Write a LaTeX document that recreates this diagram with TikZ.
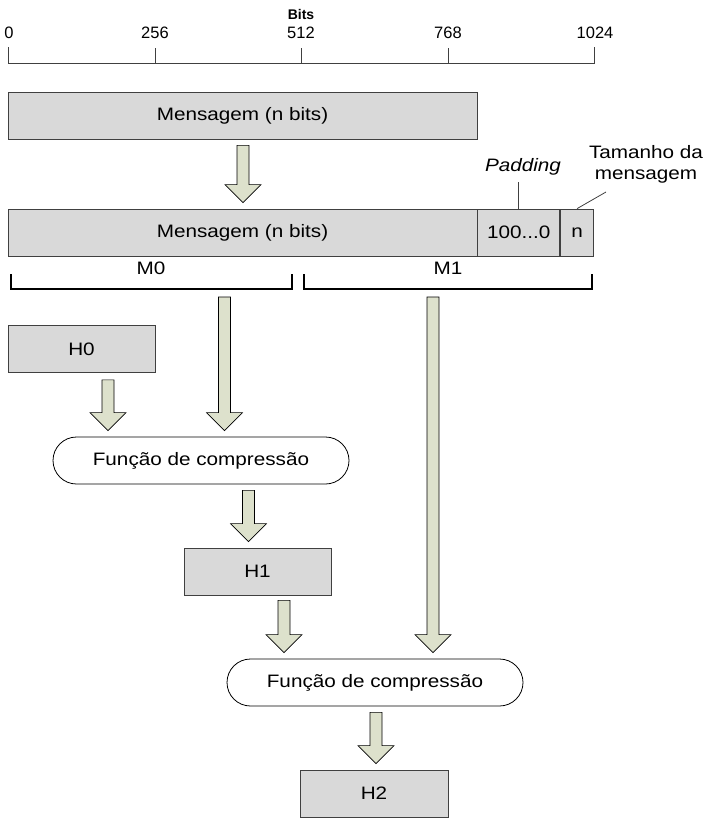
\documentclass[tikz,border=0pt]{standalone}
\usepackage{fontspec}
\setmainfont[FakeStretch=1.15]{Liberation Sans}
\newfontfamily\plainsans{Liberation Sans}
\usetikzlibrary{calc}
\definecolor{boxfill}{RGB}{217,217,217}
\definecolor{boxline}{RGB}{64,64,64}
\definecolor{arrowfill}{RGB}{221,225,204}
\tikzset{
  box/.style={draw=boxline, fill=boxfill, line width=0.8pt, inner sep=0pt,
    minimum height=47pt, font=\fontsize{18}{21}\selectfont},
  func/.style={draw=black, fill=white, line width=0.8pt, rounded corners=23.5pt,
    inner sep=0pt, minimum height=47pt, minimum width=296pt,
    font=\fontsize{18}{21}\selectfont},
  label/.style={inner sep=0pt, font=\fontsize{18}{21}\selectfont},
  ticklabel/.style={inner sep=0pt, font=\plainsans\fontsize{16.5}{19}\selectfont},
  brace/.style={draw=black, line width=1.8pt},
  % block arrow drawn from the start point (top of shaft) to the target (tip)
  blockarr/.style={draw=black, fill=arrowfill, line width=0.6pt, line join=miter,
    to path={
      ($(\tikztostart)+(-6,0)$) -- ($(\tikztotarget)+(-6,-18)$)
      -- ($(\tikztotarget)+(-18,-18)$) -- (\tikztotarget)
      -- ($(\tikztotarget)+(18,-18)$) -- ($(\tikztotarget)+(6,-18)$)
      -- ($(\tikztostart)+(6,0)$) -- cycle}},
}
\begin{document}
\begin{tikzpicture}[x=1pt, y=-1pt]
\useasboundingbox (0,0) rectangle (704,819);

% bit scale
\node[inner sep=0pt, font=\plainsans\bfseries\fontsize{14}{16}\selectfont] (bits) at (301,14) {Bits};
\coordinate (s0) at (8,63);
\coordinate (s1024) at (594,63);
\draw[boxline, line width=0.8pt] (8,47) -- (s0) -- (s1024) -- (594,47);
\foreach \x in {155, 301, 448} {
  \draw[boxline, line width=0.8pt] (\x,48) -- (\x,63);
}
\node[ticklabel] (t0) at (9,33) {0};
\node[ticklabel] (t256) at (155,33) {256};
\node[ticklabel] (t512) at (301,33) {512};
\node[ticklabel] (t768) at (448,33) {768};
\node[ticklabel] (t1024) at (595,33) {1024};

% original message
\node[box, minimum width=469pt] (msg) at (242.5,115.5) {Mensagem (n bits)};

% padded message
\node[box, minimum width=469pt] (pmsg) at (242.5,232.5) {Mensagem (n bits)};
\node[box, minimum width=82pt, anchor=west] (pad) at (pmsg.east) {100...0};
\node[box, minimum width=33pt, anchor=west] (len) at (pad.east) {n};

\node[label, font=\itshape\fontsize{18}{21}\selectfont] (padlbl) at (523,167) {Padding};
\node[label, align=center] (lenlbl) at (646,164) {Tamanho da\\mensagem};
\draw[boxline, line width=0.8pt] (pad.north) -- ++(0,-27);
\draw[boxline, line width=0.8pt] (len.north) -- (606,192);

% split into two 512-bit blocks
\draw[brace] (11,274) -- (11,289) -- (292,289) -- (292,274);
\draw[brace] (304,274) -- (304,289) -- (592,289) -- (592,274);
\node[label] (m0) at (151,268) {M0};
\node[label] (m1) at (448,268) {M1};
\coordinate (m0out) at (224.5,297);
\coordinate (m1out) at (433,297);

% chaining values and compression
\node[box, minimum width=147pt] (h0) at (81.5,349) {H0};
\node[func] (cf1) at (201,460.5) {Função de compressão};
\node[box, minimum width=147pt] (h1) at (257.5,571.5) {H1};
\node[func] (cf2) at (375,682.5) {Função de compressão};
\node[box, minimum width=148pt] (h2) at (374,793.5) {H2};

% arrow start points
\coordinate (msgout) at ([xshift=0.5pt,yshift=-6pt]msg.south);
\coordinate (h0out) at ([xshift=26.5pt,yshift=-7pt]h0.south);
\coordinate (cf1out) at ([xshift=47.5pt,yshift=-6pt]cf1.south);
\coordinate (h1out) at ([xshift=26.5pt,yshift=-5pt]h1.south);
\coordinate (cf2out) at ([xshift=1pt,yshift=-6pt]cf2.south);

% block arrows
\draw[blockarr] (msgout) to ([yshift=6pt]msgout |- pmsg.north);
\draw[blockarr] (m0out) to ([yshift=6pt]m0out |- cf1.north);
\draw[blockarr] (h0out) to ([yshift=6pt]h0out |- cf1.north);
\draw[blockarr] (cf1out) to ([yshift=6pt]cf1out |- h1.north);
\draw[blockarr] (h1out) to ([yshift=6pt]h1out |- cf2.north);
\draw[blockarr] (m1out) to ([yshift=6pt]m1out |- cf2.north);
\draw[blockarr] (cf2out) to ([yshift=6pt]cf2out |- h2.north);
\end{tikzpicture}
\end{document}
